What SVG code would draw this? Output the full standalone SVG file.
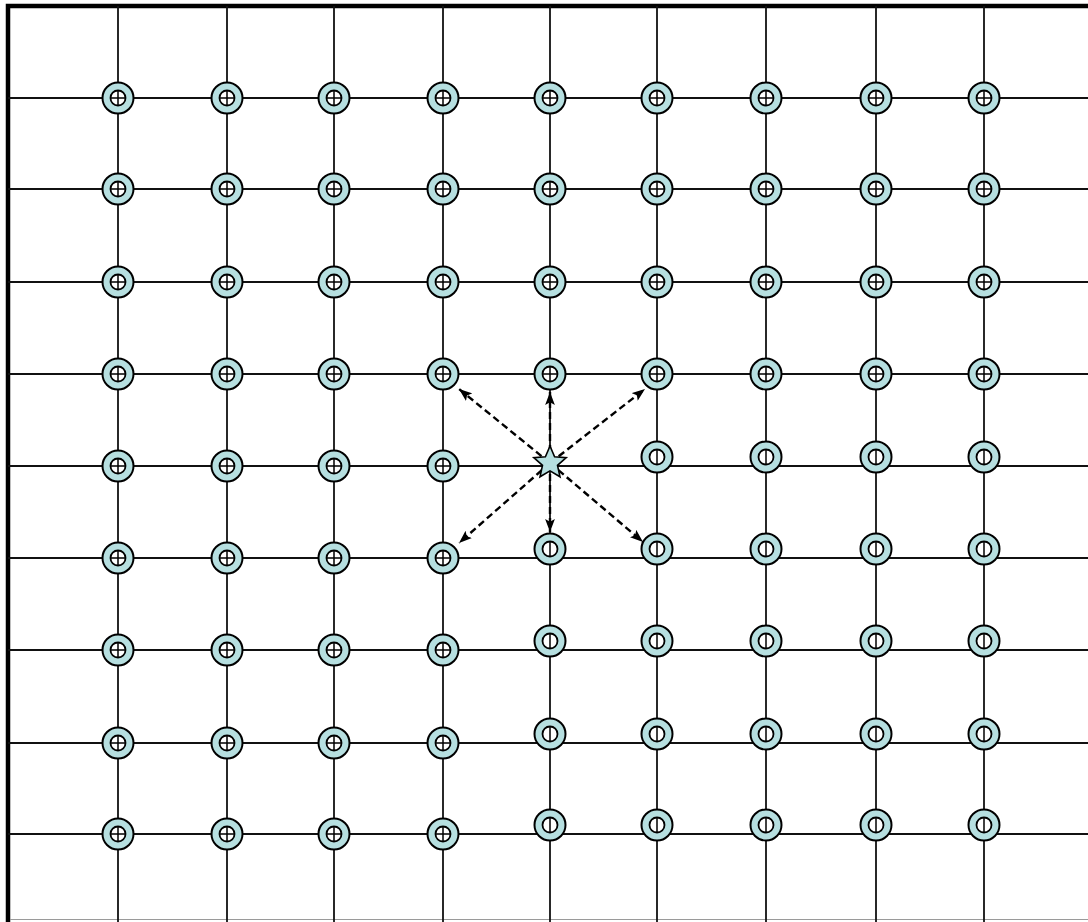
<svg xmlns="http://www.w3.org/2000/svg" xmlns:xlink="http://www.w3.org/1999/xlink" width="1088" height="922" viewBox="0 0 1088 922">
<style>
.grid line{stroke:#111;stroke-width:1.8}
.ring{fill:#b6dfe0;stroke:#000;stroke-width:2}
.hole{fill:#fff;stroke:#000;stroke-width:1.8}
.mark{stroke:#000;stroke-width:1.5;fill:none}
.arrow{stroke:#000;stroke-width:2.4;stroke-dasharray:7 4;fill:none;marker-end:url(#ah)}
</style>
<defs>
<marker id="ah" viewBox="0 0 12 9" refX="12" refY="4.5" markerWidth="13" markerHeight="10" markerUnits="userSpaceOnUse" orient="auto">
<path d="M0,0 L12,4.5 L0,9 L2.5,4.5 Z" fill="#000"/>
</marker>
<g id="pnode"><circle class="ring" r="15.5"/><circle class="hole" r="7.5"/><path class="mark" d="M-7,0H7M0,-7V7"/></g>
<g id="fnode"><circle class="ring" r="15.5"/><circle class="hole" r="7.5"/><path class="mark" d="M0,-7V7"/></g>
</defs>
<rect width="1088" height="922" fill="#fff"/>
<g id="frame">
<path d="M8,922 V6 H1088" stroke="#000" stroke-width="4.5" fill="none"/>
<line x1="10" y1="919.5" x2="1088" y2="919.5" stroke="#9a9a9a" stroke-width="1"/>
</g>
<g class="grid" id="grid">
<line x1="118" y1="6" x2="118" y2="922"/>
<line x1="227" y1="6" x2="227" y2="922"/>
<line x1="334" y1="6" x2="334" y2="922"/>
<line x1="443" y1="6" x2="443" y2="922"/>
<line x1="550" y1="6" x2="550" y2="922"/>
<line x1="657" y1="6" x2="657" y2="922"/>
<line x1="766" y1="6" x2="766" y2="922"/>
<line x1="876" y1="6" x2="876" y2="922"/>
<line x1="984" y1="6" x2="984" y2="922"/>
<line x1="8" y1="98" x2="1088" y2="98"/>
<line x1="8" y1="189" x2="1088" y2="189"/>
<line x1="8" y1="282" x2="1088" y2="282"/>
<line x1="8" y1="374" x2="1088" y2="374"/>
<line x1="8" y1="466" x2="1088" y2="466"/>
<line x1="8" y1="558" x2="1088" y2="558"/>
<line x1="8" y1="650" x2="1088" y2="650"/>
<line x1="8" y1="743" x2="1088" y2="743"/>
<line x1="8" y1="834" x2="1088" y2="834"/>
</g>
<g id="connectors">
<line class="arrow" x1="550" y1="463" x2="459" y2="389"/>
<line class="arrow" x1="550" y1="463" x2="550" y2="392"/>
<line class="arrow" x1="550" y1="463" x2="645" y2="389"/>
<line class="arrow" x1="550" y1="463" x2="459" y2="543"/>
<line class="arrow" x1="550" y1="463" x2="550" y2="532"/>
<line class="arrow" x1="550" y1="463" x2="643" y2="542"/>
</g>
<g id="n-0-0"><use href="#pnode" x="118" y="98"/></g>
<g id="n-0-1"><use href="#pnode" x="227" y="98"/></g>
<g id="n-0-2"><use href="#pnode" x="334" y="98"/></g>
<g id="n-0-3"><use href="#pnode" x="443" y="98"/></g>
<g id="n-0-4"><use href="#pnode" x="550" y="98"/></g>
<g id="n-0-5"><use href="#pnode" x="657" y="98"/></g>
<g id="n-0-6"><use href="#pnode" x="766" y="98"/></g>
<g id="n-0-7"><use href="#pnode" x="876" y="98"/></g>
<g id="n-0-8"><use href="#pnode" x="984" y="98"/></g>
<g id="n-1-0"><use href="#pnode" x="118" y="189"/></g>
<g id="n-1-1"><use href="#pnode" x="227" y="189"/></g>
<g id="n-1-2"><use href="#pnode" x="334" y="189"/></g>
<g id="n-1-3"><use href="#pnode" x="443" y="189"/></g>
<g id="n-1-4"><use href="#pnode" x="550" y="189"/></g>
<g id="n-1-5"><use href="#pnode" x="657" y="189"/></g>
<g id="n-1-6"><use href="#pnode" x="766" y="189"/></g>
<g id="n-1-7"><use href="#pnode" x="876" y="189"/></g>
<g id="n-1-8"><use href="#pnode" x="984" y="189"/></g>
<g id="n-2-0"><use href="#pnode" x="118" y="282"/></g>
<g id="n-2-1"><use href="#pnode" x="227" y="282"/></g>
<g id="n-2-2"><use href="#pnode" x="334" y="282"/></g>
<g id="n-2-3"><use href="#pnode" x="443" y="282"/></g>
<g id="n-2-4"><use href="#pnode" x="550" y="282"/></g>
<g id="n-2-5"><use href="#pnode" x="657" y="282"/></g>
<g id="n-2-6"><use href="#pnode" x="766" y="282"/></g>
<g id="n-2-7"><use href="#pnode" x="876" y="282"/></g>
<g id="n-2-8"><use href="#pnode" x="984" y="282"/></g>
<g id="n-3-0"><use href="#pnode" x="118" y="374"/></g>
<g id="n-3-1"><use href="#pnode" x="227" y="374"/></g>
<g id="n-3-2"><use href="#pnode" x="334" y="374"/></g>
<g id="n-3-3"><use href="#pnode" x="443" y="374"/></g>
<g id="n-3-4"><use href="#pnode" x="550" y="374"/></g>
<g id="n-3-5"><use href="#pnode" x="657" y="374"/></g>
<g id="n-3-6"><use href="#pnode" x="766" y="374"/></g>
<g id="n-3-7"><use href="#pnode" x="876" y="374"/></g>
<g id="n-3-8"><use href="#pnode" x="984" y="374"/></g>
<g id="n-4-0"><use href="#pnode" x="118" y="466"/></g>
<g id="n-4-1"><use href="#pnode" x="227" y="466"/></g>
<g id="n-4-2"><use href="#pnode" x="334" y="466"/></g>
<g id="n-4-3"><use href="#pnode" x="443" y="466"/></g>
<g id="star"><path d="M0,-17 L4.6,-6.3 L16.2,-5.3 L7.5,2.4 L10,13.8 L0,7.9 L-10,13.8 L-7.5,2.4 L-16.2,-5.3 L-4.6,-6.3 Z" transform="translate(550,463)" fill="#b6dfe0" stroke="#000" stroke-width="1.6" stroke-linejoin="miter"/></g>
<g id="n-4-5"><use href="#fnode" x="657" y="457"/></g>
<g id="n-4-6"><use href="#fnode" x="766" y="457"/></g>
<g id="n-4-7"><use href="#fnode" x="876" y="457"/></g>
<g id="n-4-8"><use href="#fnode" x="984" y="457"/></g>
<g id="n-5-0"><use href="#pnode" x="118" y="558"/></g>
<g id="n-5-1"><use href="#pnode" x="227" y="558"/></g>
<g id="n-5-2"><use href="#pnode" x="334" y="558"/></g>
<g id="n-5-3"><use href="#pnode" x="443" y="558"/></g>
<g id="n-5-4"><use href="#fnode" x="550" y="549"/></g>
<g id="n-5-5"><use href="#fnode" x="657" y="549"/></g>
<g id="n-5-6"><use href="#fnode" x="766" y="549"/></g>
<g id="n-5-7"><use href="#fnode" x="876" y="549"/></g>
<g id="n-5-8"><use href="#fnode" x="984" y="549"/></g>
<g id="n-6-0"><use href="#pnode" x="118" y="650"/></g>
<g id="n-6-1"><use href="#pnode" x="227" y="650"/></g>
<g id="n-6-2"><use href="#pnode" x="334" y="650"/></g>
<g id="n-6-3"><use href="#pnode" x="443" y="650"/></g>
<g id="n-6-4"><use href="#fnode" x="550" y="641"/></g>
<g id="n-6-5"><use href="#fnode" x="657" y="641"/></g>
<g id="n-6-6"><use href="#fnode" x="766" y="641"/></g>
<g id="n-6-7"><use href="#fnode" x="876" y="641"/></g>
<g id="n-6-8"><use href="#fnode" x="984" y="641"/></g>
<g id="n-7-0"><use href="#pnode" x="118" y="743"/></g>
<g id="n-7-1"><use href="#pnode" x="227" y="743"/></g>
<g id="n-7-2"><use href="#pnode" x="334" y="743"/></g>
<g id="n-7-3"><use href="#pnode" x="443" y="743"/></g>
<g id="n-7-4"><use href="#fnode" x="550" y="734"/></g>
<g id="n-7-5"><use href="#fnode" x="657" y="734"/></g>
<g id="n-7-6"><use href="#fnode" x="766" y="734"/></g>
<g id="n-7-7"><use href="#fnode" x="876" y="734"/></g>
<g id="n-7-8"><use href="#fnode" x="984" y="734"/></g>
<g id="n-8-0"><use href="#pnode" x="118" y="834"/></g>
<g id="n-8-1"><use href="#pnode" x="227" y="834"/></g>
<g id="n-8-2"><use href="#pnode" x="334" y="834"/></g>
<g id="n-8-3"><use href="#pnode" x="443" y="834"/></g>
<g id="n-8-4"><use href="#fnode" x="550" y="825"/></g>
<g id="n-8-5"><use href="#fnode" x="657" y="825"/></g>
<g id="n-8-6"><use href="#fnode" x="766" y="825"/></g>
<g id="n-8-7"><use href="#fnode" x="876" y="825"/></g>
<g id="n-8-8"><use href="#fnode" x="984" y="825"/></g>
</svg>
